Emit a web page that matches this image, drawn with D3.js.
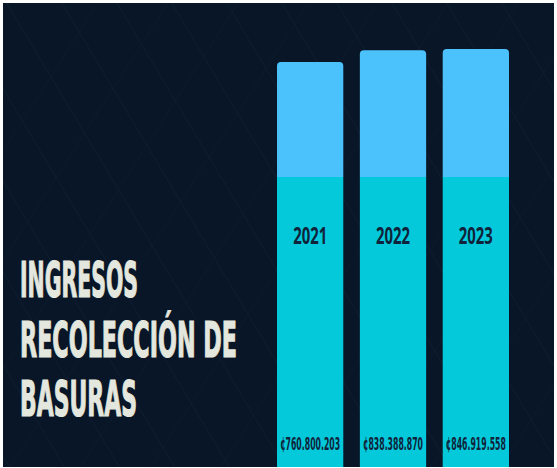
<!DOCTYPE html>
<html><head><meta charset="utf-8">
<script src="https://cdn.jsdelivr.net/npm/d3@7"></script>
<style>html,body{margin:0;padding:0;background:#fff;}svg{display:block;}</style>
</head><body>
<svg id="chart" width="557" height="468"></svg>
<script>
const years = ["2021", "2022", "2023"];
const ingresos = [760800203, 838388870, 846919558];
const valueLabels = ["¢760.800.203", "¢838.388.870", "¢846.919.558"];
const titleLines = ["INGRESOS", "RECOLECCIÓN DE", "BASURAS"];

const svg = d3.select("#chart");
const W = 557, H = 468;
const inner = {x0: 3, y0: 3, x1: 554, y1: 467};

svg.append("rect").attr("x", 0).attr("y", 0).attr("width", W).attr("height", H).attr("fill", "#ffffff");
svg.append("rect").attr("x", inner.x0).attr("y", inner.y0)
  .attr("width", inner.x1 - inner.x0).attr("height", inner.y1 - inner.y0).attr("fill", "#091628");

svg.append("clipPath").attr("id", "clipbg").append("rect")
  .attr("x", inner.x0).attr("y", inner.y0).attr("width", inner.x1 - inner.x0).attr("height", inner.y1 - inner.y0);

// faint diagonal texture
const tex = svg.append("g").attr("clip-path", "url(#clipbg)").attr("stroke", "#17263b").attr("stroke-width", 1).attr("opacity", 0.5);
d3.range(-600, 700, 55).forEach(o => {
  tex.append("line").attr("x1", o).attr("y1", 0).attr("x2", o + 280).attr("y2", H);
});
d3.range(100, 1200, 70).forEach(o => {
  tex.append("line").attr("x1", o).attr("y1", 0).attr("x2", o - 300).attr("y2", H).attr("opacity", 0.6);
});

const x = d3.scaleBand().domain(years).range([277, 509]).paddingInner(0.2).paddingOuter(0);
const y = d3.scaleLinear().domain([700e6, 900e6]).range([71.2, 41]);
const baseY = inner.y1;
const splitY = 177;
const r = 4;

const bars = svg.append("g");
years.forEach((yr, i) => {
  const bx = x(yr), bw = x.bandwidth(), top = y(ingresos[i]);
  const p = d3.path();
  p.moveTo(bx, splitY);
  p.lineTo(bx, top + r);
  p.quadraticCurveTo(bx, top, bx + r, top);
  p.lineTo(bx + bw - r, top);
  p.quadraticCurveTo(bx + bw, top, bx + bw, top + r);
  p.lineTo(bx + bw, splitY);
  p.closePath();
  bars.append("path").attr("d", p.toString()).attr("fill", "#4bc2fb");
  bars.append("rect").attr("x", bx).attr("y", splitY).attr("width", bw).attr("height", baseY - splitY).attr("fill", "#03c9db");
  bars.append("text").attr("transform", `translate(${bx + bw / 2},244) scale(1,1.15)`)
    .attr("text-anchor", "middle").attr("font-family", "'Open Sans', sans-serif").attr("font-weight", 700)
    .attr("font-size", 20).attr("fill", "#10233a")
    .attr("textLength", 34).attr("lengthAdjust", "spacingAndGlyphs").text(yr);
  bars.append("text").attr("transform", `translate(${bx + bw / 2},450) scale(1,1.55)`)
    .attr("text-anchor", "middle").attr("font-family", "'DejaVu Sans Condensed', sans-serif").attr("font-weight", 700)
    .attr("font-size", 11.5).attr("fill", "#10233a")
    .attr("textLength", 60).attr("lengthAdjust", "spacingAndGlyphs").text(valueLabels[i]);
});

const tl = svg.append("g");
const titleBase = [297, 357, 416];
const titleW = [118, 217, 117];
titleLines.forEach((t, i) => {
  tl.append("text").attr("transform", `translate(20,${titleBase[i]}) scale(1,1.46)`)
    .attr("font-family", "'DejaVu Sans Condensed', sans-serif").attr("font-weight", 700)
    .attr("font-size", 34).attr("fill", "#e4e7de").attr("stroke", "#e4e7de").attr("stroke-width", 0.8)
    .attr("textLength", titleW[i]).attr("lengthAdjust", "spacingAndGlyphs").text(t);
});
</script>
</body></html>
